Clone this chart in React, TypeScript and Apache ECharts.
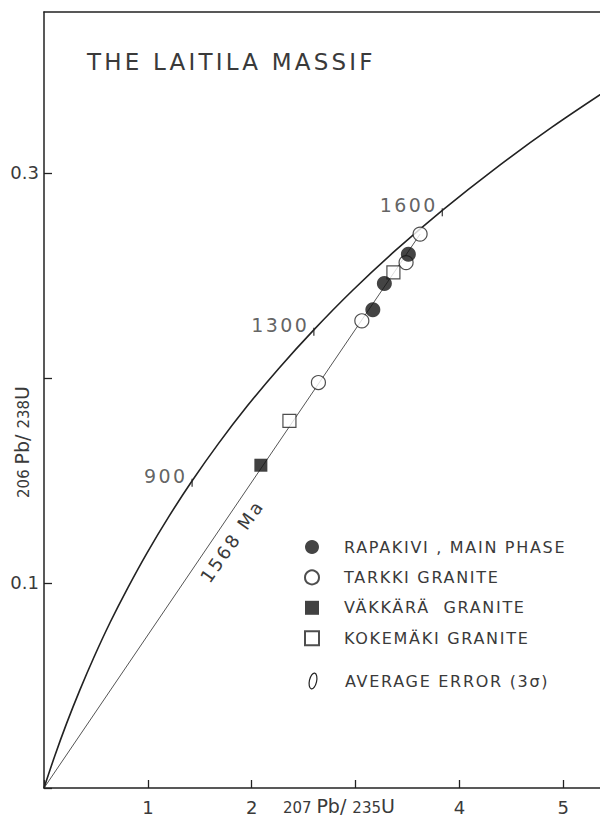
import React, { useEffect, useRef } from 'react';
import * as echarts from 'echarts';

// Concordia curve (207Pb/235U , 206Pb/238U)
const concordiaX = [0, 0.1035, 0.2177, 0.3438, 0.4828, 0.6362, 0.8056, 0.9925, 1.1987, 1.4264, 1.6774, 1.9546, 2.2603, 2.5977, 2.97, 3.3812, 3.8347, 4.3351, 4.8872, 5.4962];
const concordiaY = [0, 0.0156, 0.0315, 0.0476, 0.064, 0.0807, 0.0975, 0.1147, 0.1321, 0.1498, 0.1678, 0.1861, 0.2046, 0.2234, 0.2426, 0.262, 0.2817, 0.3017, 0.3221, 0.3428];

// Age marks on the concordia
const ageLabels = ['900', '1300', '1600'];
const ageX = [1.426, 2.598, 3.835];
const ageY = [0.1498, 0.2234, 0.2817];

// Discordia (1568 Ma)
const discordiaX = [0, 3.621];
const discordiaY = [0, 0.2701];
const discordiaLabel = '1568 Ma';

// Samples
const rapakiviX = [3.508, 3.277, 3.166];
const rapakiviY = [0.2603, 0.246, 0.2332];
const tarkkiX = [3.621, 3.486, 3.06, 2.642];
const tarkkiY = [0.2701, 0.2562, 0.2278, 0.1977];
const vakkaraX = [2.088];
const vakkaraY = [0.1574];
const kokemakiX = [3.364, 2.363];
const kokemakiY = [0.2514, 0.179];

const seriesNames = ['RAPAKIVI , MAIN PHASE', 'TARKKI GRANITE', 'VÄKKÄRÄ  GRANITE', 'KOKEMÄKI GRANITE'];
const errorLabel = 'AVERAGE ERROR (3σ)';
const titleText = 'THE LAITILA MASSIF';

const xTickLabels = ['1', '2', '4', '5'];
const yTickLabels = ['0.1', '0.3'];

const FONT = 'DejaVu Sans';
const INK = '#222';
const TXT = '#3a3a3a';

const zip = (xs: number[], ys: number[]) => xs.map((x, i) => [x, ys[i]]);

const spacing: Record<string, number> = {
  [titleText]: 3.2,
  [seriesNames[0]]: 1.7,
  [seriesNames[1]]: 1.7,
  [seriesNames[2]]: 1.7,
  [seriesNames[3]]: 1.7,
  [errorLabel]: 1.7,
  [discordiaLabel]: 2.6,
  '900': 2.4,
  '1300': 2.4,
  '1600': 2.4,
};

export default function App() {
  const ref = useRef<HTMLDivElement>(null);
  useEffect(() => {
    if (!ref.current) return;
    const chart = echarts.init(ref.current, null, { renderer: 'svg' });
    const axisNameRich = {
      s: { fontFamily: FONT, fontSize: 15, fill: TXT, verticalAlign: 'bottom' },
      b: { fontFamily: FONT, fontSize: 19, fill: TXT, verticalAlign: 'bottom' },
    };
    const option: any = {
      animation: false,
      backgroundColor: '#fff',
      textStyle: { fontFamily: FONT },
      title: {
        text: titleText,
        left: 87,
        top: 50,
        padding: 0,
        textStyle: { fontFamily: FONT, fontSize: 23, fontWeight: 'normal', color: TXT },
      },
      grid: { left: 44, right: 0, top: 12, bottom: 29, containLabel: false, outerBoundsMode: 'none' },
      legend: {
        orient: 'vertical',
        left: 304,
        top: 539,
        itemWidth: 14,
        itemHeight: 14,
        itemGap: 14.4,
        padding: 0,
        selectedMode: false,
        data: seriesNames,
        textStyle: { fontFamily: FONT, fontSize: 16, color: TXT, lineHeight: 14, padding: [0, 0, 0, 20] },
      },
      xAxis: [
        {
          type: 'value',
          min: 0,
          max: 5.353,
          interval: 1,
          splitLine: { show: false },
          axisLine: { show: true, lineStyle: { color: INK, width: 1.5 } },
          axisTick: { show: true, inside: true, length: 8, lineStyle: { color: INK, width: 1.3 } },
          axisLabel: {
            margin: 10,
            fontFamily: FONT,
            fontSize: 18,
            color: TXT,
            showMaxLabel: false,
            formatter: (v: number) => {
              const r = Math.round(v);
              return Math.abs(v - r) < 1e-6 && xTickLabels.includes(String(r)) ? String(r) : '';
            },
          },
        },
        {
          type: 'value',
          position: 'top',
          min: 0,
          max: 5.353,
          axisLine: { show: true, onZero: false, lineStyle: { color: INK, width: 1.5 } },
          axisTick: { show: false },
          axisLabel: { show: false },
          splitLine: { show: false },
        },
      ],
      yAxis: {
        type: 'value',
        min: 0,
        max: 0.3784,
        interval: 0.1,
        splitLine: { show: false },
        axisLine: { show: true, lineStyle: { color: INK, width: 1.5 } },
        axisTick: { show: true, inside: true, length: 8, lineStyle: { color: INK, width: 1.3 } },
        axisLabel: {
          margin: 5,
          fontFamily: FONT,
          fontSize: 18,
          color: TXT,
          showMaxLabel: false,
          formatter: (v: number) => {
            const s = v.toFixed(1);
            return Math.abs(v - Number(s)) < 1e-6 && yTickLabels.includes(s) ? s : '';
          },
        },
      },
      series: [
        {
          type: 'line',
          name: 'discordia',
          data: zip(discordiaX, discordiaY),
          showSymbol: false,
          symbol: 'none',
          silent: true,
          lineStyle: { color: '#555', width: 1 },
          z: 2,
        },
        {
          type: 'line',
          name: 'concordia',
          data: zip(concordiaX, concordiaY),
          smooth: 0.35,
          showSymbol: false,
          symbol: 'none',
          silent: true,
          clip: true,
          lineStyle: { color: INK, width: 1.6 },
          z: 2,
        },
        {
          type: 'scatter',
          name: 'ages',
          data: zip(ageX, ageY),
          symbol: 'rect',
          symbolSize: [1.4, 8],
          symbolOffset: [0, 2],
          itemStyle: { color: INK },
          silent: true,
          label: {
            show: true,
            position: 'left',
            distance: 4,
            offset: [0, -7],
            formatter: (p: any) => ageLabels[p.dataIndex],
            fontFamily: FONT,
            fontSize: 19,
            color: TXT,
          },
          z: 3,
        },
        {
          type: 'scatter',
          name: seriesNames[3],
          data: zip(kokemakiX, kokemakiY),
          symbol: 'rect',
          symbolSize: 13,
          itemStyle: { color: '#fff', borderColor: INK, borderWidth: 1.2 },
          z: 4,
        },
        {
          type: 'scatter',
          name: seriesNames[1],
          data: zip(tarkkiX, tarkkiY),
          symbol: 'circle',
          symbolSize: 14,
          itemStyle: { color: '#fff', borderColor: INK, borderWidth: 1.2 },
          z: 5,
        },
        {
          type: 'scatter',
          name: seriesNames[2],
          data: zip(vakkaraX, vakkaraY),
          symbol: 'rect',
          symbolSize: 13,
          itemStyle: { color: '#111', borderColor: '#111', borderWidth: 0 },
          z: 5,
        },
        {
          type: 'scatter',
          name: seriesNames[0],
          data: zip(rapakiviX, rapakiviY),
          symbol: 'circle',
          symbolSize: 15,
          itemStyle: { color: '#151515', borderColor: '#111', borderWidth: 0 },
          z: 6,
        },
      ],
      graphic: [
        {
          type: 'text',
          x: 283,
          y: 815,
          style: {
            text: '{s|207 }{b|Pb/ }{s|235}{b|U}',
            verticalAlign: 'bottom',
            align: 'left',
            fill: TXT,
            rich: axisNameRich,
          },
        },
        {
          type: 'text',
          x: 22,
          y: 442,
          rotation: Math.PI / 2,
          style: {
            text: '{s|206 }{b|Pb/ }{s|238}{b|U}',
            verticalAlign: 'middle',
            align: 'center',
            fill: TXT,
            rich: axisNameRich,
          },
        },
        {
          type: 'text',
          x: 232,
          y: 541,
          rotation: (55 * Math.PI) / 180,
          style: {
            text: discordiaLabel,
            align: 'center',
            verticalAlign: 'middle',
            fontFamily: FONT,
            fontSize: 18,
            fill: TXT,
          },
        },
        {
          type: 'ellipse',
          x: 313,
          y: 681,
          rotation: -0.22,
          shape: { cx: 0, cy: 0, rx: 3.6, ry: 8 },
          style: { fill: 'none', stroke: INK, lineWidth: 1.2 },
        },
        {
          type: 'text',
          x: 345,
          y: 681,
          style: {
            text: errorLabel,
            align: 'left',
            verticalAlign: 'middle',
            fontFamily: FONT,
            fontSize: 16,
            fill: TXT,
          },
        },
      ],
    };
    chart.setOption(option);
    const applySpacing = () => {
      const root = ref.current;
      if (!root) return;
      root.querySelectorAll('text').forEach((t) => {
        const s = spacing[(t.textContent || '').trim()];
        if (s !== undefined) t.setAttribute('letter-spacing', String(s));
      });
    };
    applySpacing();
    chart.on('finished', applySpacing);
    const t1 = setTimeout(applySpacing, 0);
    const t2 = setTimeout(applySpacing, 100);
    return () => {
      clearTimeout(t1);
      clearTimeout(t2);
      chart.dispose();
    };
  }, []);
  return (
    <div
      ref={ref}
      style={{ position: 'absolute', left: 0, top: 0, width: 600, height: 817, background: '#fff' }}
    />
  );
}
